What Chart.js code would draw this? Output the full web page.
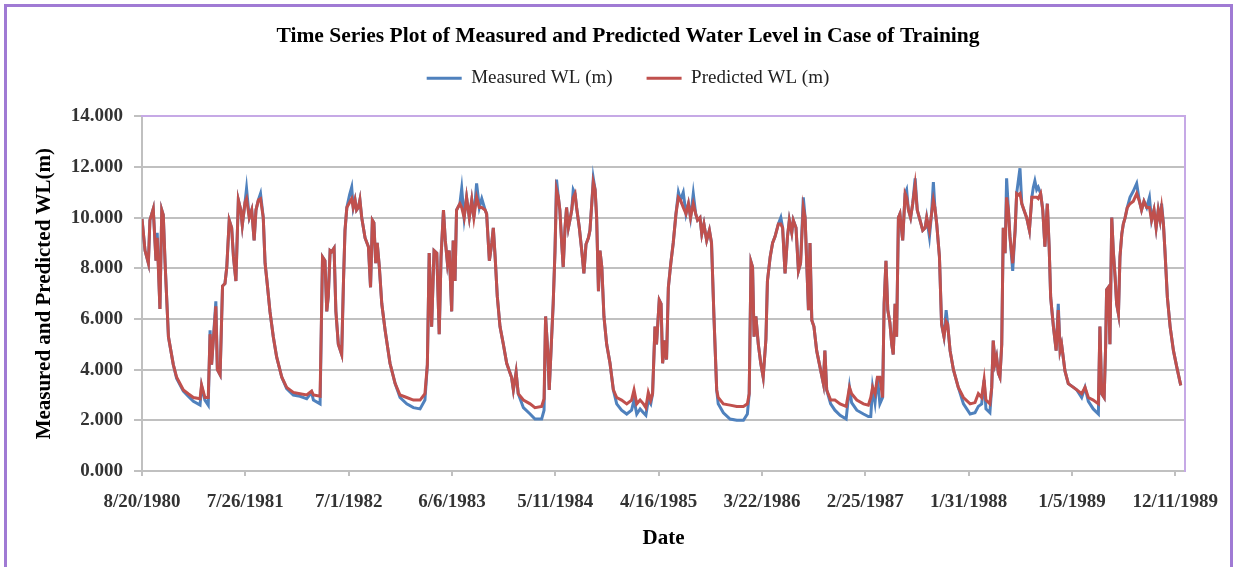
<!DOCTYPE html>
<html><head><meta charset="utf-8">
<script src="https://cdn.jsdelivr.net/npm/chart.js@4.4.1/dist/chart.umd.min.js"></script>
<style>html,body{margin:0;padding:0;background:#fff;overflow:hidden}#wrap{position:relative;width:1237px;height:567px}</style>
</head><body><div id="wrap"><canvas id="c"></canvas></div>
<script>
// Day offsets from 8/20/1980
const days = [0,10,21,26,37,46,50,59,65,70,
 76,87,103,114,136,152,169,191,196,207,
 218,224,229,243,248,257,265,273,279,287,
 295,301,309,317,325,330,339,344,353,361,
 369,375,383,390,399,405,412,421,432,443,
 460,476,498,520,542,558,564,586,594,602,
 608,613,619,624,632,638,646,657,663,668,
 674,683,690,695,701,706,712,717,723,734,
 745,752,758,763,769,774,781,789,800,816,
 833,849,871,893,915,931,939,945,953,961,
 970,978,984,992,998,1005,1011,1019,1024,1030,
 1035,1046,1052,1060,1068,1077,1085,1092,1101,1110,
 1118,1129,1134,1143,1151,1156,1162,1169,1178,1189,
 1200,1216,1222,1231,1238,1255,1277,1293,1315,1323,
 1328,1335,1340,1348,1353,1359,1364,1370,1375,1381,
 1386,1392,1397,1403,1408,1414,1419,1425,1430,1439,
 1447,1454,1461,1469,1474,1480,1485,1491,1496,1502,
 1507,1513,1520,1529,1540,1551,1562,1578,1595,1611,
 1619,1628,1639,1650,1658,1666,1674,1680,1688,1693,
 1702,1708,1713,1721,1726,1732,1740,1748,1757,1765,
 1772,1781,1790,1798,1805,1814,1822,1828,1836,1842,
 1849,1858,1867,1874,1882,1891,1896,1913,1935,1957,
 1979,1992,1998,2004,2009,2014,2020,2028,2036,2044,
 2053,2058,2067,2075,2083,2094,2102,2108,2116,2124,
 2130,2138,2143,2152,2160,2167,2176,2182,2187,2193,
 2198,2204,2211,2220,2231,2242,2247,2253,2266,2280,
 2297,2317,2328,2335,2352,2374,2390,2398,2404,2412,
 2420,2428,2437,2442,2448,2454,2461,2467,2472,2478,
 2483,2489,2494,2503,2511,2516,2522,2529,2536,2544,
 2551,2560,2569,2577,2582,2591,2598,2604,2609,2615,
 2624,2631,2639,2646,2651,2659,2670,2686,2703,2725,
 2741,2752,2763,2771,2777,2790,2796,2801,2807,2812,
 2818,2823,2829,2834,2840,2845,2851,2856,2865,2873,
 2878,2884,2889,2895,2902,2911,2920,2928,2933,2938,
 2944,2949,2957,2964,2971,2979,2985,2990,2999,3008,
 3015,3021,3026,3037,3048,3065,3076,3092,3103,3114,
 3130,3147,3152,3158,3166,3171,3174,3180,3185,3191,
 3196,3202,3207,3213,3218,3224,3229,3235,3242,3251,
 3262,3273,3282,3289,3297,3306,3315,3322,3330,3337,
 3344,3350,3355,3361,3366,3374,3383,3394,3405,3418];

const measured = [9.95,8.7,8.2,9.9,10.35,8.3,9.4,6.4,10.3,10.1,
 8.2,5.3,4.2,3.65,3.15,2.95,2.75,2.6,3.35,2.8,
 2.6,5.55,4.2,6.7,4.0,3.8,7.3,7.4,8.05,9.9,
 9.6,8.45,7.5,10.7,10.3,9.7,10.6,11.15,10.0,10.3,
 9.1,10.3,10.7,10.95,10.0,8.2,7.4,6.3,5.3,4.5,
 3.7,3.25,3.0,2.95,2.85,3.1,2.8,2.65,8.45,8.3,
 6.3,6.9,8.7,8.65,8.8,6.3,5.0,4.6,7.5,9.5,
 10.4,10.9,11.2,10.4,10.7,10.3,10.4,10.7,10.0,9.2,
 8.85,7.25,9.9,9.8,8.2,9.0,8.05,6.6,5.55,4.25,
 3.45,2.9,2.65,2.5,2.45,2.8,4.2,8.6,5.7,8.7,
 8.6,5.4,8.45,10.3,9.1,8.2,8.7,6.3,9.1,7.5,
 10.3,10.55,11.15,10.0,10.8,10.0,10.7,10.0,11.35,10.4,
 10.75,10.3,10.15,8.3,9.0,9.6,8.45,6.9,5.7,5.0,
 4.25,3.7,3.2,3.9,3.05,2.5,2.25,2.05,2.05,2.4,
 6.1,4.75,3.2,5.3,6.6,8.7,11.5,10.8,10.3,9.0,
 8.05,9.6,10.4,9.6,9.9,10.3,11.1,10.95,10.4,9.6,
 8.7,7.8,8.95,9.2,9.5,10.55,11.55,11.1,10.0,7.1,
 8.7,8.05,6.1,5.0,4.25,3.2,2.65,2.4,2.25,2.4,
 2.8,2.25,2.45,2.3,2.2,2.8,2.65,3.05,5.7,5.0,
 6.75,6.6,4.25,5.15,4.4,7.25,8.2,9.0,10.15,11.0,
 10.7,11.0,10.15,10.55,10.0,10.95,10.15,9.9,10.0,9.35,
 9.75,9.1,9.5,9.0,6.1,3.2,2.65,2.3,2.05,2.0,
 2.0,2.25,3.05,8.25,8.05,5.3,6.1,5.0,4.25,3.7,
 5.2,7.5,8.45,9.0,9.25,9.75,10.0,9.6,7.8,9.25,
 9.9,9.4,9.9,9.6,7.9,8.2,10.8,10.0,8.3,6.35,
 9.0,5.95,5.7,4.75,4.1,3.45,4.75,3.2,2.65,2.4,
 2.2,2.05,3.3,2.7,2.4,2.25,2.15,2.15,3.3,2.7,
 3.7,2.65,2.9,6.6,8.3,6.35,5.85,5.0,4.6,6.6,
 5.3,10.0,10.15,9.1,10.95,11.1,10.3,10.0,10.55,11.55,
 10.3,9.9,9.5,9.6,10.0,9.25,10.15,11.4,10.4,9.75,
 8.45,5.8,5.3,6.35,5.8,4.75,4.0,3.3,2.65,2.25,
 2.3,2.55,2.65,3.6,2.45,2.3,3.3,5.15,4.25,4.5,
 3.85,3.7,5.0,9.6,8.6,11.55,10.3,9.25,7.9,9.5,
 10.95,11.5,11.95,10.55,10.3,10.0,9.5,10.8,11.2,11.45,
 11.1,11.2,10.95,10.3,8.85,10.55,8.85,6.85,5.7,4.75,
 6.6,4.75,5.0,3.95,3.45,3.3,3.2,2.9,3.3,2.75,
 2.45,2.25,5.7,3.05,2.9,5.0,7.15,7.25,5.0,10.0,
 8.7,7.65,6.6,6.2,8.45,9.35,9.75,10.0,10.4,10.8,
 11.05,11.35,10.65,10.3,10.65,10.4,10.8,9.9,10.3,9.6,
 10.3,9.9,10.55,9.75,8.7,6.85,5.7,4.75,4.1,3.38];

const predicted = [9.95,8.7,8.2,9.9,10.35,8.3,9.2,6.4,10.3,10.1,
 8.2,5.3,4.2,3.7,3.2,3.05,2.9,2.85,3.4,2.9,
 2.9,5.4,4.2,6.5,4.0,3.8,7.3,7.4,8.05,9.9,
 9.6,8.45,7.5,10.7,10.3,9.7,10.6,10.75,10.0,10.3,
 9.1,10.3,10.7,10.75,10.0,8.2,7.4,6.3,5.3,4.5,
 3.7,3.3,3.1,3.05,3.0,3.15,3.0,2.95,8.45,8.3,
 6.3,6.9,8.7,8.65,8.8,6.3,5.0,4.6,7.5,9.5,
 10.4,10.6,10.75,10.4,10.7,10.3,10.4,10.7,10.0,9.2,
 8.85,7.25,9.9,9.8,8.2,9.0,8.05,6.6,5.55,4.25,
 3.45,3.0,2.9,2.8,2.8,3.05,4.2,8.6,5.7,8.7,
 8.6,5.4,8.45,10.3,9.1,8.2,8.7,6.3,9.1,7.5,
 10.3,10.55,10.4,10.0,10.8,10.0,10.7,10.0,10.8,10.4,
 10.4,10.3,10.15,8.3,9.0,9.6,8.45,6.9,5.7,5.0,
 4.25,3.7,3.2,3.9,3.05,2.8,2.65,2.5,2.55,2.85,
 6.1,4.75,3.2,5.3,6.6,8.7,11.1,10.8,10.3,9.0,
 8.05,9.6,10.4,9.6,9.9,10.3,10.8,10.95,10.4,9.6,
 8.7,7.8,8.95,9.2,9.5,10.55,11.4,11.1,10.0,7.1,
 8.7,8.05,6.1,5.0,4.25,3.2,2.9,2.8,2.65,2.8,
 3.2,2.65,2.8,2.65,2.5,3.1,2.8,3.05,5.7,5.0,
 6.75,6.6,4.25,5.15,4.4,7.25,8.2,9.0,10.15,10.8,
 10.7,10.4,10.15,10.55,10.0,10.55,10.15,9.9,10.0,9.35,
 9.75,9.1,9.5,9.0,6.1,3.2,2.9,2.65,2.6,2.55,
 2.55,2.65,3.05,8.25,8.05,5.3,6.1,5.0,4.25,3.7,
 5.2,7.5,8.45,9.0,9.25,9.75,9.75,9.6,7.8,9.25,
 9.9,9.4,9.9,9.6,7.9,8.2,10.4,10.0,8.3,6.35,
 9.0,5.95,5.7,4.75,4.1,3.45,4.75,3.2,2.8,2.8,
 2.65,2.55,3.3,3.05,2.8,2.65,2.6,2.9,3.3,3.05,
 3.7,3.7,2.9,6.6,8.3,6.35,5.85,5.0,4.6,6.6,
 5.3,10.0,10.15,9.1,10.95,10.8,10.3,10.0,10.55,11.3,
 10.3,9.9,9.5,9.6,10.0,9.5,10.15,10.7,10.4,9.75,
 8.45,5.8,5.3,5.9,5.8,4.75,4.0,3.3,2.9,2.65,
 2.7,3.05,2.9,3.6,2.8,2.65,3.3,5.15,4.25,4.5,
 3.85,3.7,5.0,9.6,8.6,10.8,10.3,9.25,8.2,9.5,
 10.95,10.9,10.95,10.55,10.3,10.0,9.5,10.8,10.8,10.8,
 10.8,10.75,10.95,10.3,8.85,10.55,8.85,6.85,5.7,4.75,
 6.35,4.75,5.0,3.95,3.45,3.3,3.2,3.05,3.3,2.9,
 2.8,2.65,5.7,3.05,2.9,5.0,7.15,7.25,5.0,10.0,
 8.7,7.65,6.6,6.2,8.45,9.35,9.75,10.0,10.4,10.55,
 10.65,10.95,10.65,10.3,10.65,10.4,10.4,9.9,10.3,9.6,
 10.3,9.9,10.4,9.75,8.7,6.85,5.7,4.75,4.1,3.38];

const xTickDays = [0,340,680,1020,1360,1700,2040,2380,2720,3060,3400];
const xTickLabels = ['8/20/1980','7/26/1981','7/1/1982','6/6/1983','5/11/1984','4/16/1985','3/22/1986','2/25/1987','1/31/1988','1/5/1989','12/11/1989'];
const yTicks = [0,2,4,6,8,10,12,14];
const yTickLabels = ['0.000','2.000','4.000','6.000','8.000','10.000','12.000','14.000'];

const serif = "'Liberation Serif', 'Times New Roman', serif";
const gridCol = '#c0c0c0';
const purple = '#c6a9e6';

const framePlugin = {
  id: 'frame',
  beforeDraw(chart) {
    const c = chart.ctx; c.save(); c.fillStyle = '#fff'; c.fillRect(0, 0, chart.width, chart.height); c.restore();
  },
  afterDraw(chart) {
    const c = chart.ctx; c.save(); c.strokeStyle = '#a07ad4'; c.lineWidth = 3;
    c.strokeRect(5.5, 5.5, 1226, 620); c.restore();
  }
};

new Chart(document.getElementById('c'), {
  type: 'line',
  data: {
    datasets: [
      { label: 'Measured WL (m)', data: days.map((d, i) => ({ x: d, y: measured[i] })),
        borderColor: '#4F81BD', backgroundColor: '#4F81BD', borderWidth: 3, pointRadius: 0, tension: 0, order: 1 },
      { label: 'Predicted WL (m)', data: days.map((d, i) => ({ x: d, y: predicted[i] })),
        borderColor: '#C0504D', backgroundColor: '#C0504D', borderWidth: 3, pointRadius: 0, tension: 0, order: 0 }
    ]
  },
  options: {
    responsive: true, maintainAspectRatio: false, animation: false,
    layout: { padding: { left: 19, right: 0, top: 8, bottom: 0 } },
    plugins: {
      title: { display: true, text: 'Time Series Plot of Measured and Predicted Water Level in Case of Training',
        color: '#000', font: { family: serif, size: 21.5, weight: 'bold' }, padding: { top: 16, bottom: -15 } },
      legend: { display: true, reverse: true,
        labels: { usePointStyle: true, pointStyle: 'line', pointStyleWidth: 35, padding: 34, color: '#222',
          font: { family: serif, size: 19 } } },
      tooltip: { enabled: false }
    },
    scales: {
      x: { type: 'linear', position: 'bottom', min: 0, max: 3432,
        afterBuildTicks: s => { s.ticks = xTickDays.map(v => ({ value: v })); },
        afterFit: s => { s.height = 96; },
        ticks: { autoSkip: false, maxRotation: 0, minRotation: 0, padding: 15, color: '#333',
          font: { family: serif, size: 19, weight: 'bold' }, callback: (v, i) => xTickLabels[i] },
        grid: { drawOnChartArea: false, drawTicks: true, tickLength: 5, color: gridCol, lineWidth: 2 },
        border: { color: gridCol, width: 2 },
        title: { display: true, text: 'Date', color: '#000', font: { family: serif, size: 21, weight: 'bold' },
          padding: { top: 0, bottom: 16 } } },
      y: { type: 'linear', position: 'left', min: 0, max: 14,
        afterBuildTicks: s => { s.ticks = yTicks.map(v => ({ value: v })); },
        afterFit: s => { s.width = 123; },
        ticks: { padding: 11, color: '#333', font: { family: serif, size: 19, weight: 'bold' },
          callback: (v, i) => yTickLabels[i] },
        grid: { color: gridCol, lineWidth: 2, tickLength: 8 },
        border: { color: gridCol, width: 2 },
        title: { display: true, text: 'Measured and Predicted WL(m)', color: '#000',
          font: { family: serif, size: 21, weight: 'bold' }, padding: { top: 13, bottom: 0 } } },
      x2: { type: 'linear', position: 'top', min: 0, max: 1, display: true,
        afterFit: s => { s.height = 18.5; },
        ticks: { display: false }, grid: { display: false },
        border: { color: purple, width: 2, z: 1 } },
      y2: { type: 'linear', position: 'right', min: 0, max: 14, display: true,
        afterFit: s => { s.width = 52; },
        ticks: { display: false }, grid: { display: false },
        border: { color: purple, width: 2, z: 1 } }
    }
  },
  plugins: [framePlugin]
});
</script>
</body></html>
